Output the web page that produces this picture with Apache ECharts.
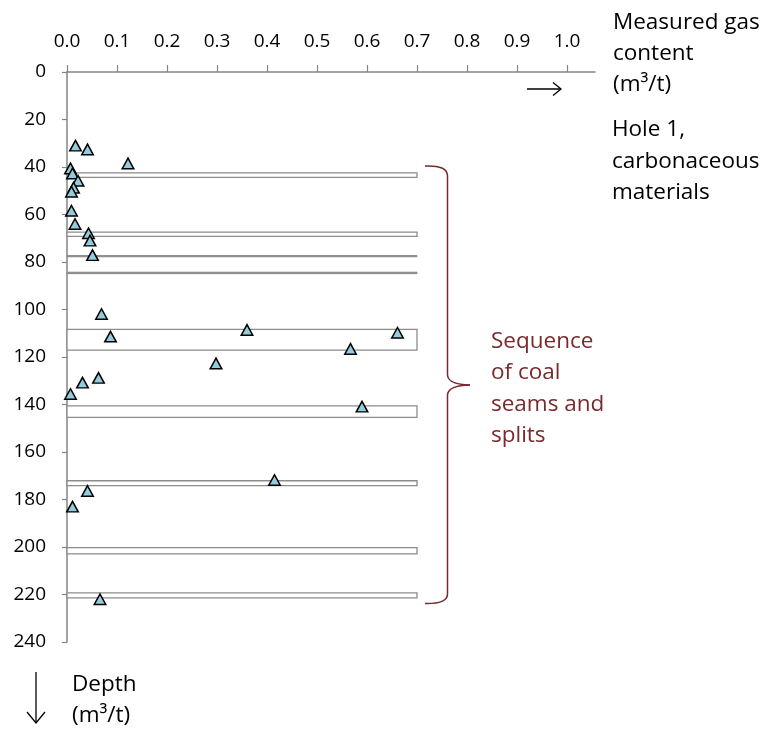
<!DOCTYPE html>
<html>
<head>
<meta charset="utf-8">
<script src="https://cdn.jsdelivr.net/npm/echarts@6/dist/echarts.min.js"></script>
<style>
  html, body { margin: 0; padding: 0; background: #ffffff; }
  #chart { width: 769px; height: 733px; }
</style>
</head>
<body>
<div id="chart"></div>
<script>
// ---- data ----
var gasContent = [0.017, 0.041, 0.122, 0.007, 0.011, 0.022, 0.013, 0.009, 0.009, 0.016,
                  0.043, 0.046, 0.051, 0.069, 0.087, 0.360, 0.661, 0.567, 0.298, 0.063,
                  0.031, 0.007, 0.590, 0.415, 0.041, 0.011, 0.066];
var depthValues = [31.0, 32.6, 38.5, 40.6, 42.7, 45.8, 48.7, 50.4, 58.4, 64.0,
                   67.9, 71.0, 77.1, 101.9, 111.4, 108.6, 109.8, 116.6, 122.7, 128.8,
                   130.8, 135.6, 140.9, 171.8, 176.4, 183.0, 222.0];
var seamTop    = [42.5, 67.4, 77.3, 84.3, 108.4, 140.6, 172.1, 200.3, 219.3];
var seamBottom = [44.4, 69.2, 77.8, 84.9, 117.1, 145.4, 174.2, 202.9, 221.4];
var seamExtent = 0.7;
var xTickValues = [0.0, 0.1, 0.2, 0.3, 0.4, 0.5, 0.6, 0.7, 0.8, 0.9, 1.0];

var points = gasContent.map(function (g, i) { return [g, depthValues[i]]; });
var seams = seamTop.map(function (t, i) { return [0, t, seamExtent, seamBottom[i]]; });

var FONT = 'Open Sans';
var DARKRED = '#7A2A2C';
var AXIS = '#858585';

var chart = echarts.init(document.getElementById('chart'), null, { renderer: 'canvas' });

function txt(x, y, s, color) {
  return {
    type: 'text', x: x, y: y, silent: true,
    style: { text: s, fill: color || '#000', font: '22.5px "' + FONT + '"',
             textAlign: 'left', textVerticalAlign: 'middle', textBaseline: 'middle' }
  };
}
function seg(pts) {
  return { type: 'polyline', silent: true, shape: { points: pts },
           style: { stroke: '#000', lineWidth: 1.3, fill: null } };
}
function bz(x1, y1, cx, cy, x2, y2) {
  return { type: 'bezierCurve', silent: true,
           shape: { x1: x1, y1: y1, cpx1: cx, cpy1: cy, x2: x2, y2: y2 },
           style: { stroke: DARKRED, lineWidth: 1.5, fill: null } };
}
function bl(x1, y1, x2, y2) {
  return { type: 'line', silent: true, shape: { x1: x1, y1: y1, x2: x2, y2: y2 },
           style: { stroke: DARKRED, lineWidth: 1.5 } };
}

var option = {
  animation: false,
  backgroundColor: '#ffffff',
  grid: { left: 67, top: 72, width: 528, height: 570, containLabel: false, outerBoundsMode: 'none' },
  xAxis: {
    type: 'value', position: 'top', min: 0, max: 1.056,
    splitLine: { show: false },
    axisLine: { show: true, onZero: false, lineStyle: { color: AXIS, width: 1.5 } },
    axisTick: { show: true, inside: false, length: 7, customValues: xTickValues, lineStyle: { color: AXIS, width: 1.2 } },
    axisLabel: { show: true, margin: 21, customValues: xTickValues, color: '#000', fontFamily: FONT, fontSize: 19,
                 formatter: function (v) { return Number(v).toFixed(1); } }
  },
  yAxis: {
    type: 'value', inverse: true, min: 0, max: 240, interval: 20,
    splitLine: { show: false },
    axisLine: { show: true, onZero: false, lineStyle: { color: AXIS, width: 1.5 } },
    axisTick: { show: true, inside: false, length: 5, lineStyle: { color: AXIS, width: 1.2 } },
    axisLabel: { show: true, margin: 21, color: '#000', fontFamily: FONT, fontSize: 19 }
  },
  series: [
    {
      type: 'custom', z: 1, silent: true,
      data: seams,
      encode: { x: [0, 2], y: [1, 3] },
      renderItem: function (params, api) {
        var p1 = api.coord([api.value(0), api.value(1)]);
        var p2 = api.coord([api.value(2), api.value(3)]);
        var h = p2[1] - p1[1];
        var thin = h < 3;
        return {
          type: 'rect',
          shape: { x: p1[0], y: p1[1], width: p2[0] - p1[0], height: h },
          style: thin
            ? { fill: '#7a7a7a', stroke: '#8c8c8c', lineWidth: 1 }
            : { fill: '#ffffff', stroke: '#8c8c8c', lineWidth: 1.3 }
        };
      }
    },
    {
      type: 'scatter', z: 3, silent: true,
      data: points,
      symbol: 'triangle', symbolSize: [11.5, 10.5],
      itemStyle: { color: '#93CDDD', borderColor: '#000000', borderWidth: 1.5, opacity: 1 }
    }
  ],
  graphic: [
    txt(613, 23, 'Measured gas'),
    txt(613, 54, 'content'),
    txt(613, 85, '(m³/t)'),
    txt(612, 130, 'Hole 1,'),
    txt(612, 162, 'carbonaceous'),
    txt(612, 193, 'materials'),
    txt(491, 342, 'Sequence', DARKRED),
    txt(491, 373, 'of coal', DARKRED),
    txt(491, 405, 'seams and', DARKRED),
    txt(491, 436, 'splits', DARKRED),
    txt(72, 685, 'Depth'),
    txt(72, 716, '(m³/t)'),
    seg([[527, 89], [561, 89]]),
    seg([[553, 82.5], [561, 89], [553, 95.5]]),
    seg([[36, 672], [36, 723]]),
    seg([[27, 712], [36, 723], [45, 712]]),
    bz(425, 166, 447.5, 165, 447.5, 176),
    bl(447.5, 176, 447.5, 375),
    bz(447.5, 375, 448, 384.5, 470, 385),
    bz(470, 385, 448, 385.5, 447.5, 395),
    bl(447.5, 395, 447.5, 594),
    bz(447.5, 594, 447.5, 604, 425, 603.5)
  ]
};

chart.setOption(option);
</script>
</body>
</html>
